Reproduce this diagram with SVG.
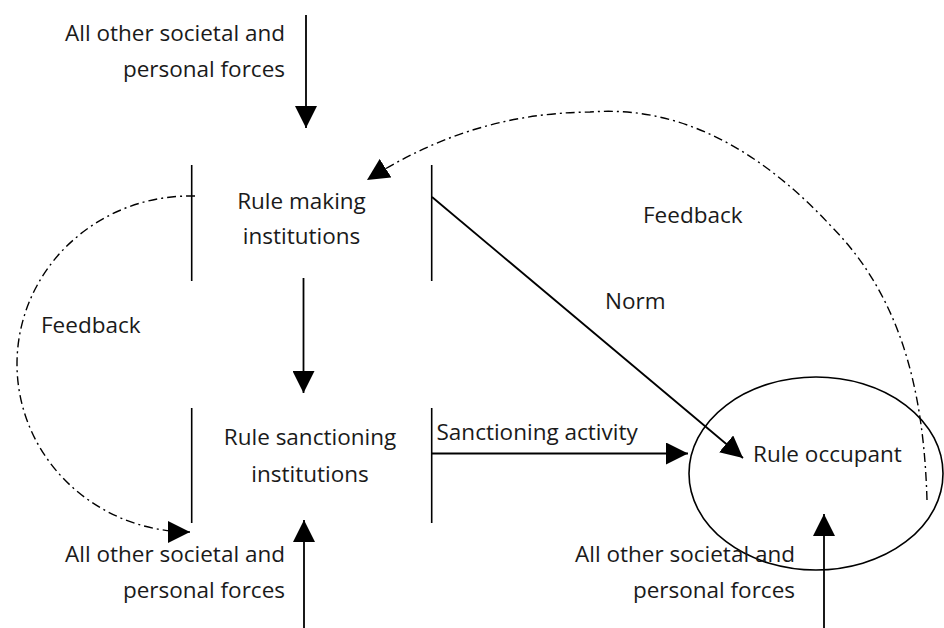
<svg xmlns="http://www.w3.org/2000/svg" width="944" height="628" viewBox="0 0 944 628">
<style>
text{font-family:"Open Sans","Noto Sans","Liberation Sans",sans-serif;font-size:22.5px;fill:#1a1a1a}
.e{text-anchor:end}.m{text-anchor:middle}
.bar{stroke:#000;stroke-width:1.6;fill:none}
.ar{stroke:#000;stroke-width:1.8;fill:none;marker-end:url(#ah)}
.fb{stroke:#000;stroke-width:1.4;fill:none;stroke-dasharray:9 4 2 4;marker-end:url(#ah)}
</style>
<defs>
<marker id="ah" markerUnits="userSpaceOnUse" markerWidth="22" markerHeight="22" viewBox="0 0 20 20" refX="20" refY="10" orient="auto">
<path d="M0 0 L20 10 L0 20 Z" fill="#000"/>
</marker>
</defs>
<rect width="944" height="628" fill="#fff"/>
<g id="forces-top">
<text class="e" x="285" y="41">All other societal and</text>
<text class="e" x="285" y="77">personal forces</text>
</g>
<g id="rule-making">
<line class="bar" x1="191.7" y1="165" x2="191.7" y2="281"/>
<line class="bar" x1="431.7" y1="165" x2="431.7" y2="281"/>
<text class="m" x="301.5" y="209">Rule making</text>
<text class="m" x="301.5" y="244">institutions</text>
</g>
<g id="rule-sanctioning">
<line class="bar" x1="191.7" y1="408" x2="191.7" y2="523"/>
<line class="bar" x1="431.7" y1="408" x2="431.7" y2="523"/>
<text class="m" x="310" y="445">Rule sanctioning</text>
<text class="m" x="310" y="482">institutions</text>
</g>
<g id="rule-occupant">
<ellipse cx="816" cy="473.5" rx="127" ry="96.5" fill="none" stroke="#000" stroke-width="1.6"/>
<text x="753" y="462">Rule occupant</text>
</g>
<g id="forces-bottom-left">
<text class="e" x="285" y="562">All other societal and</text>
<text class="e" x="285" y="598">personal forces</text>
</g>
<g id="forces-bottom-right">
<text class="e" x="795" y="562">All other societal and</text>
<text class="e" x="795" y="598">personal forces</text>
</g>
<g id="connectors">
<line class="ar" x1="306" y1="15" x2="306" y2="128"/>
<line class="ar" x1="303.5" y1="278" x2="303.5" y2="393"/>
<line class="ar" x1="304" y1="628" x2="304" y2="520"/>
<line class="ar" x1="824" y1="628" x2="824" y2="514"/>
<line class="ar" x1="432" y1="453.5" x2="688" y2="453.5"/>
<line class="ar" x1="432" y1="197" x2="743" y2="458"/>
<path class="fb" d="M927 500 C924 400 905 300 830 225 C760 150 680 105 590 112 C500 113 430 140 367 180"/>
<path class="fb" d="M195 196 L190 196 A173 168 0 0 0 190 532"/>
<text x="436.5" y="440">Sanctioning activity</text>
<text x="605" y="309">Norm</text>
<text x="643" y="223">Feedback</text>
<text x="41" y="333">Feedback</text>
</g>
</svg>
